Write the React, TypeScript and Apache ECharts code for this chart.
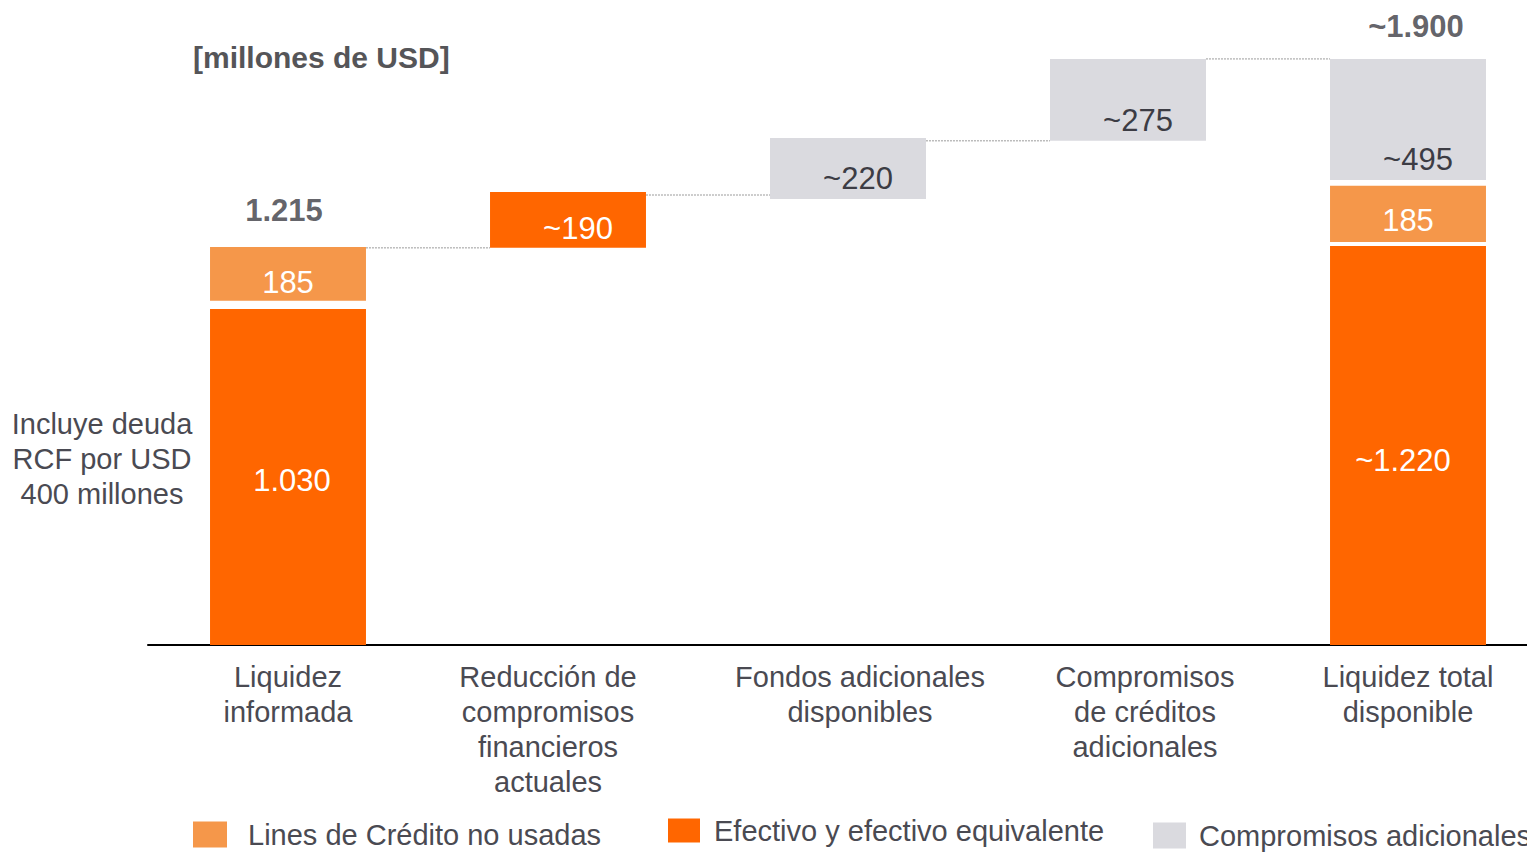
import React, { useEffect, useRef } from "react";
import * as echarts from "echarts";

const FONT = "'Liberation Sans', Arial, Helvetica, sans-serif";

const categories = [
  "Liquidez\ninformada",
  "Reducción de\ncompromisos\nfinancieros\nactuales",
  "Fondos adicionales\ndisponibles",
  "Compromisos\nde créditos\nadicionales",
  "Liquidez total\ndisponible",
];

// Drawn segment heights (millions USD)
const baseValues = [0, 1217, 1367, 1545, 0];
const cashValues = [1030, 171, null, null, 1223];
const gapLowValues = [25, null, null, null, 12];
const creditValues = [165, null, null, null, 172];
const gapHighValues = [null, null, null, null, 18];
const commitValues = [null, null, 187, 251, 371];

// Labels printed on the segments
const cashLabels = ["1.030", "~190", "", "", "~1.220"];
const creditLabels = ["185", "", "", "", "185"];
const commitLabels = ["", "", "~220", "~275", "~495"];

// Totals on top of bars
const totalPoints = [
  [0, 1220],
  [4, 1796],
];
const totalLabels = ["1.215", "~1.900"];

// Dotted connectors between bars (level of each step)
const connectorLevels = [
  [0, 1217],
  [1, 1379],
  [2, 1545],
  [3, 1796],
];

const DARK = "#FF6600";
const LIGHT = "#F5974A";
const GRAY = "#DADADF";
const TEXT = "#4a4a52";
const BAR_W = 0.557;

// horizontal nudges of category labels (padding left/right)
const catPadding = [
  [0, 0, 0, 0],
  [0, 40, 0, 0],
  [0, 0, 0, 24],
  [0, 0, 0, 34],
  [0, 0, 0, 0],
];

export default function App() {
  const ref = useRef<HTMLDivElement>(null);

  useEffect(() => {
    if (!ref.current) return;
    const chart = echarts.init(ref.current, null, { renderer: "svg" });

    const barCommon = {
      type: "bar",
      stack: "w",
      barWidth: "55.7%",
      emphasis: { disabled: true },
      silent: true,
    };

    const legendText = { fontSize: 29, color: TEXT, fontFamily: FONT };

    const option = {
      animation: false,
      textStyle: { fontFamily: FONT },
      grid: {
        left: 148,
        width: 1400,
        top: 25,
        height: 620,
        containLabel: false,
        outerBoundsMode: "none",
      },
      xAxis: {
        type: "category",
        data: categories.map((c, i) => ({
          value: c,
          textStyle: { padding: catPadding[i] },
        })),
        axisLine: { show: true, lineStyle: { color: "#000", width: 2 } },
        axisTick: { show: false },
        axisLabel: {
          interval: 0,
          fontSize: 29,
          lineHeight: 35,
          color: TEXT,
          margin: 14,
          fontFamily: FONT,
          hideOverlap: false,
        },
      },
      yAxis: {
        type: "value",
        min: 0,
        max: 1900,
        show: false,
        splitLine: { show: false },
      },
      legend: [
        {
          left: 193,
          top: 820,
          padding: 0,
          itemWidth: 34,
          itemHeight: 26,
          icon: "rect",
          data: ["Lines de Crédito no usadas"],
          textStyle: { ...legendText, padding: [0, 0, 0, 16] },
          selectedMode: false,
        },
        {
          left: 668,
          top: 816,
          padding: 0,
          itemWidth: 32,
          itemHeight: 24,
          icon: "rect",
          data: ["Efectivo y efectivo equivalente"],
          textStyle: { ...legendText, padding: [12, 0, 0, 9] },
          selectedMode: false,
        },
        {
          left: 1153,
          top: 821,
          padding: 0,
          itemWidth: 33,
          itemHeight: 26,
          icon: "rect",
          data: ["Compromisos adicionales"],
          textStyle: { ...legendText, padding: [8, 0, 0, 8] },
          selectedMode: false,
        },
      ],
      graphic: [
        {
          type: "text",
          x: 193,
          y: 57,
          style: {
            text: "[millones de USD]",
            fontSize: 30,
            fontWeight: "bold",
            fill: "#555558",
            verticalAlign: "middle",
            fontFamily: FONT,
          },
        },
        {
          type: "text",
          x: 102,
          y: 459,
          style: {
            text: "Incluye deuda\nRCF por USD\n400 millones",
            fontSize: 29,
            lineHeight: 35,
            fill: TEXT,
            align: "center",
            verticalAlign: "middle",
            fontFamily: FONT,
          },
        },
      ],
      series: [
        {
          ...barCommon,
          name: "base",
          data: baseValues,
          itemStyle: { color: "transparent" },
        },
        {
          ...barCommon,
          name: "Efectivo y efectivo equivalente",
          data: cashValues.map((v, i) => {
            const label: any = {};
            if (i === 0) {
              label.position = "inside";
              label.offset = [4, 4];
            } else if (i === 4) {
              label.position = "inside";
              label.offset = [-5, 15];
            } else {
              label.position = "insideBottom";
              label.distance = 4;
              label.offset = [10, 0];
            }
            return { value: v, label };
          }),
          itemStyle: { color: DARK },
          label: {
            show: true,
            color: "#fff",
            fontSize: 31,
            fontFamily: FONT,
            formatter: (p: any) => cashLabels[p.dataIndex],
          },
        },
        {
          ...barCommon,
          name: "gapLow",
          data: gapLowValues,
          itemStyle: { color: "transparent" },
        },
        {
          ...barCommon,
          name: "Lines de Crédito no usadas",
          data: creditValues.map((v, i) => ({
            value: v,
            label: { distance: i === 0 ? 3 : 6 },
          })),
          itemStyle: { color: LIGHT },
          label: {
            show: true,
            position: "insideBottom",
            color: "#fff",
            fontSize: 31,
            fontFamily: FONT,
            formatter: (p: any) => creditLabels[p.dataIndex],
          },
        },
        {
          ...barCommon,
          name: "gapHigh",
          data: gapHighValues,
          itemStyle: { color: "transparent" },
        },
        {
          ...barCommon,
          name: "Compromisos adicionales",
          data: commitValues,
          itemStyle: { color: GRAY },
          label: {
            show: true,
            position: "insideBottom",
            distance: 5,
            offset: [10, 0],
            color: "#3c3c44",
            fontSize: 31,
            fontFamily: FONT,
            formatter: (p: any) => commitLabels[p.dataIndex],
          },
        },
        {
          type: "custom",
          name: "connectors",
          silent: true,
          z: 1,
          data: connectorLevels,
          renderItem: (params: any, api: any) => {
            const i = api.value(0);
            const v = api.value(1);
            const p1 = api.coord([i, v]);
            const p2 = api.coord([i + 1, v]);
            const half = (api.size([1, 0])[0] * BAR_W) / 2;
            return {
              type: "line",
              shape: { x1: p1[0] + half, y1: p1[1], x2: p2[0] - half, y2: p2[1] },
              style: { stroke: "#9a9a9a", lineWidth: 1, lineDash: [2, 1] },
            };
          },
        },
        {
          type: "scatter",
          name: "totals",
          silent: true,
          symbolSize: 0,
          data: totalPoints.map((p, i) => ({
            value: p,
            label: { distance: i === 0 ? 21 : 17, offset: i === 0 ? [-4, 0] : [8, 0] },
          })),
          label: {
            show: true,
            position: "top",
            color: "#3a3a42",
            fontSize: 31,
            fontWeight: "bold",
            fontFamily: FONT,
            formatter: (p: any) => totalLabels[p.dataIndex],
          },
        },
      ],
    };

    chart.setOption(option as any);
    return () => chart.dispose();
  }, []);

  return (
    <div
      ref={ref}
      style={{ position: "absolute", left: 0, top: 0, width: 1527, height: 853 }}
    />
  );
}
